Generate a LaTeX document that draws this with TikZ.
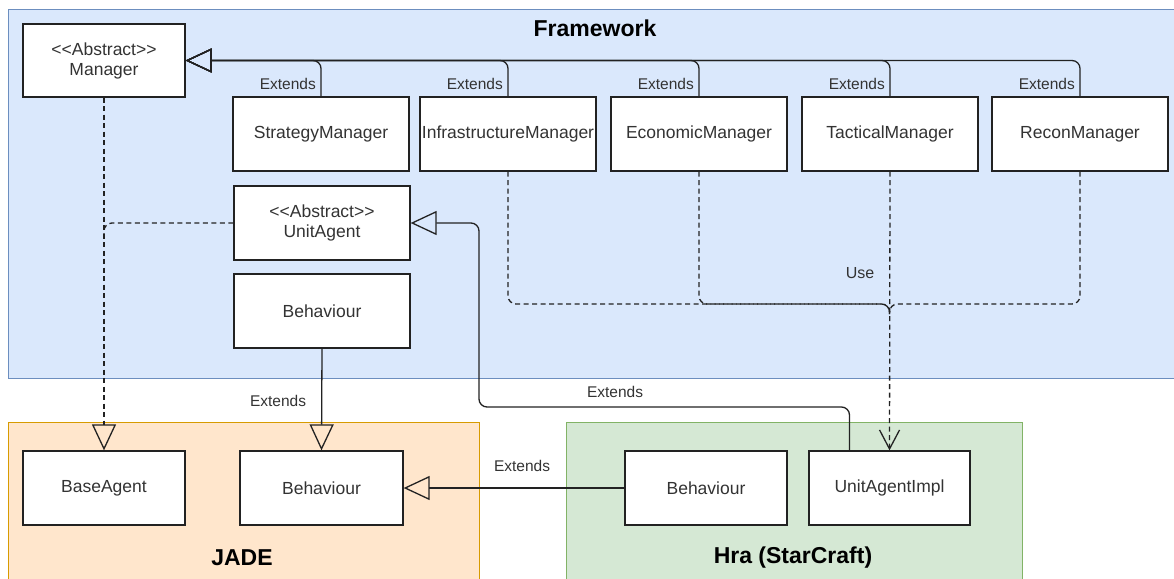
\documentclass[tikz,border=0pt]{standalone}
\usepackage{fontspec}
\setmainfont{Liberation Sans}
\usetikzlibrary{arrows.meta}
\definecolor{fwfill}{HTML}{DAE8FC}
\definecolor{fwline}{HTML}{6C8EBF}
\definecolor{jdfill}{HTML}{FFE6CC}
\definecolor{jdline}{HTML}{D79B00}
\definecolor{hrfill}{HTML}{D5E8D4}
\definecolor{hrline}{HTML}{82B366}
\definecolor{ink}{HTML}{222222}
\definecolor{txt}{HTML}{333333}
\newcommand\abstag{<\kern0pt<Abstract>\kern0pt>}
\begin{document}
\begin{tikzpicture}[x=1pt,y=-1pt,
 cls/.style={draw=ink, line width=1.3pt, fill=white, minimum height=74pt, inner sep=0pt,
   font=\fontsize{17.5}{20}\selectfont, text=txt, align=center},
 lbl/.style={font=\fontsize{15.5}{18}\selectfont, text=txt, inner sep=0pt},
 ttl/.style={font=\fontsize{23}{27}\selectfont\bfseries, text=black, inner sep=0pt},
 grp/.style={line width=1pt},
 ext/.style={draw=ink, line width=1.3pt, rounded corners=8pt, -{Triangle[open,length=26pt,width=24pt]}},
 dashln/.style={draw=ink, line width=1.3pt, rounded corners=8pt, dash pattern=on 5pt off 3.5pt},
 dext/.style={ext, dash pattern=on 5pt off 3.5pt},
 usearr/.style={dashln, -{Straight Barb[length=19pt,width=20pt]}},
]
\clip (0,0) rectangle (1174,578);
% containers
\path[grp, fill=fwfill, draw=fwline] (8,10) rectangle (1185,378);
\path[grp, fill=jdfill, draw=jdline] (8,422) rectangle (479,595);
\path[grp, fill=hrfill, draw=hrline] (566,422) rectangle (1022,595);
\node[ttl] (tfw) at (595,28.5) {Framework};
\node[ttl] (tjade) at (242,558) {JADE};
\node[ttl] (thra) at (793,558) {Hra (StarCraft)};

% classes
\node[cls, minimum width=162pt, minimum height=73pt] (mgr) at (104,60.5) {\abstag\\Manager};
\node[cls, minimum width=176pt] (strat) at (321,134) {StrategyManager};
\node[cls, minimum width=176pt] (infra) at (508,134) {InfrastructureManager};
\node[cls, minimum width=176pt] (econ) at (699,134) {EconomicManager};
\node[cls, minimum width=176pt] (tact) at (890,134) {TacticalManager};
\node[cls, minimum width=176pt] (recon) at (1080,134) {ReconManager};
\node[cls, minimum width=176pt] (ua) at (322,223) {\abstag\\UnitAgent};
\node[cls, minimum width=176pt] (beh) at (322,311) {Behaviour};
\node[cls, minimum width=162pt] (base) at (104,488) {BaseAgent};
\node[cls, minimum width=163pt] (jbeh) at (321.5,488) {Behaviour};
\node[cls, minimum width=162pt] (hbeh) at (706,488) {Behaviour};
\node[cls, minimum width=161pt] (uai) at (889.5,488) {UnitAgentImpl};

% extends to Manager
\draw[ext] (recon.north) |- (mgr.east);
\draw[ext] (tact.north) |- (mgr.east);
\draw[ext] (econ.north) |- (mgr.east);
\draw[ext] (infra.north) |- (mgr.east);
\draw[ext] (strat.north) |- (mgr.east);
\node[lbl, anchor=east] (l1) at (316,84) {Extends};
\node[lbl, anchor=east] (l2) at (503,84) {Extends};
\node[lbl, anchor=east] (l3) at (694,84) {Extends};
\node[lbl, anchor=east] (l4) at (885,84) {Extends};
\node[lbl, anchor=east] (l5) at (1075,84) {Extends};

% dashed to BaseAgent
\draw[dext] (mgr.south) -- (base.north);
\coordinate (bj) at (104,236);
\draw[dashln] (ua.west) -| (bj);

% Behaviour extends
\draw[ext] (beh.south) -- (jbeh.north);
\node[lbl] (l6) at (278,401) {Extends};
\draw[ext] (hbeh.west) -- (jbeh.east);
\node[lbl] (l7) at (522,466) {Extends};

% UnitAgentImpl extends UnitAgent
\coordinate (jog) at (479,407);
\draw[ext] ([xshift=-40pt]uai.north) |- (jog) |- (ua.east);
\node[lbl] (l8) at (615,392) {Extends};

% Use
\coordinate (uj) at (889.5,304);
\coordinate (ujb) at (889.5,314);
\draw[dashln] (infra.south) |- (uj) -- (ujb);
\draw[dashln] (econ.south) |- (uj) -- (ujb);
\draw[dashln] (recon.south) |- (uj) -- (ujb);
\draw[usearr] (tact.south) -- (uai.north);
\node[lbl, font=\fontsize{16}{19}\selectfont] (luse) at (860,273) {Use};
\end{tikzpicture}
\end{document}
